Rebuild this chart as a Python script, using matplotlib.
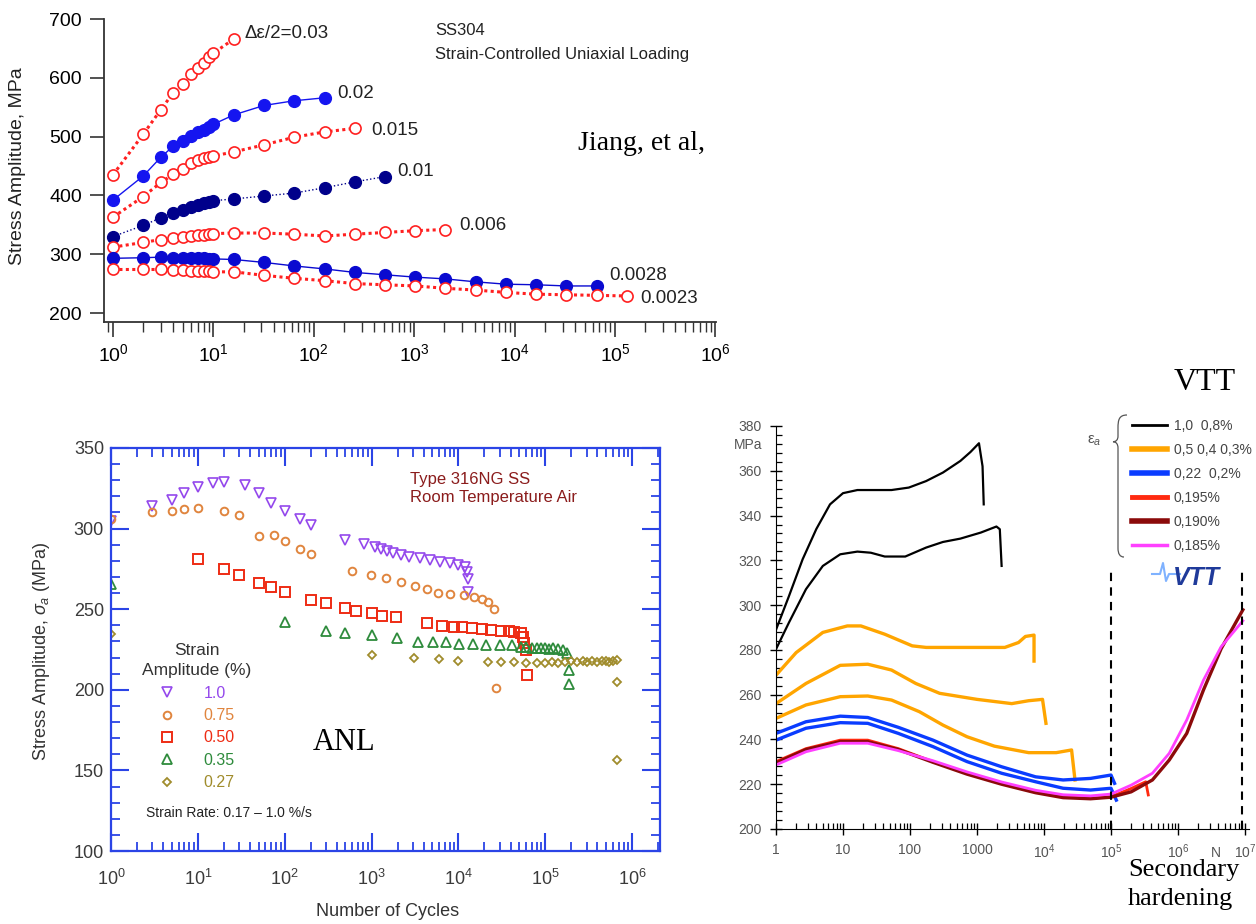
import numpy as np
import matplotlib.pyplot as plt
from matplotlib.ticker import LogLocator, MultipleLocator, NullFormatter, FuncFormatter
from matplotlib.path import Path
from matplotlib.patches import PathPatch

plt.rcParams['font.family'] = 'Liberation Sans'
plt.rcParams['mathtext.fontset'] = 'custom'
plt.rcParams['mathtext.rm'] = 'Liberation Sans'
plt.rcParams['mathtext.it'] = 'Liberation Sans:italic'
plt.rcParams['mathtext.bf'] = 'Liberation Sans:bold'

# ---------------- data: Jiang et al. (SS304) ----------------
n_a = [1, 2, 3, 4, 5, 6, 7, 8, 9, 10]
n_b = [16, 32, 64, 128, 256, 512, 1024, 2048, 4096, 8192, 16384, 32768, 65536, 131072]

j_003 = [435, 504, 546, 575, 590, 606, 616, 626, 636, 642, 666]
j_002 = [392, 433, 465, 484, 493, 501, 507, 512, 517, 521, 537, 553, 561, 566]
j_0015 = [363, 398, 422, 436, 445, 455, 460, 463, 466, 467, 474, 486, 499, 508, 514]
j_001 = [330, 349, 362, 370, 376, 381, 384, 387, 389, 391, 394, 399, 404, 413, 423, 432]
j_0006 = [312, 320, 325, 328, 330, 331, 332, 333, 334, 335, 336, 336, 334, 331, 334, 337, 340, 342]
j_00028 = [293, 294, 295, 294, 294, 293, 293, 293, 292, 292,
           291, 286, 280, 275, 269, 265, 261, 258, 253, 249, 248, 246, 246]
j_00023 = [274, 274, 274, 273, 273, 272, 272, 271, 271, 270,
           270, 264, 259, 255, 250, 248, 246, 242, 239, 235, 232, 231, 230, 229]
decades_top = [1e0, 1e1, 1e2, 1e3, 1e4, 1e5, 1e6]

# ---------------- data: ANL (Type 316NG) ----------------
anl_n1 = [1, 3, 5, 7, 10, 15, 20, 35, 50, 70, 100, 150, 200, 500, 810, 1100, 1270, 1500, 1780,
          2200, 2700, 3600, 4700, 6200, 8000, 10000, 12000, 12500, 12800, 13000]
anl_s1 = [305, 314, 318, 322, 326, 328, 329, 327, 322, 316, 311, 306, 302.5, 293, 290.5, 288.8,
          287.3, 286, 284.7, 283.6, 282.6, 281.5, 280.5, 279, 278.4, 277.4, 276.3, 273.2, 269, 260.7]
anl_n2 = [1, 3, 5, 7, 10, 20, 30, 50, 75, 100, 150, 200, 600, 980, 1450, 2200, 3200, 4350, 5900,
          8100, 11500, 15000, 18600, 21800, 25600, 27000]
anl_s2 = [306, 310, 311, 312, 313, 311, 308.5, 295.7, 296.3, 292.2, 287.5, 284.4, 274, 271, 269.3,
          266.9, 264.2, 262.5, 260.3, 259.7, 258.6, 257.6, 256.6, 254.5, 250.4, 201.4]
anl_n3 = [10, 20, 30, 50, 70, 100, 200, 300, 490, 670, 1020, 1310, 1920, 4370, 6470, 8870, 11000,
          14300, 18600, 24000, 31000, 38000, 44000, 52000, 56000, 57000, 60000, 61000]
anl_s3 = [281, 274.7, 271.2, 266.1, 263.6, 260.9, 256, 253.6, 250.6, 249.1, 247.5, 245.8, 245,
          241.2, 239.8, 239.1, 238.8, 238.2, 237.5, 237.1, 236.7, 236.7, 236, 235, 233, 228.8, 224.6, 209.2]
anl_n4 = [1, 100, 300, 500, 1000, 1950, 3400, 5100, 7200, 10300, 14600, 20600, 29800, 41000, 52000,
          60000, 70000, 81000, 90000, 100000, 110000, 123000, 140000, 160000, 180000, 186000, 190000]
anl_s4 = [265.6, 241.8, 236.6, 235.5, 234, 231.9, 229.8, 229.8, 229.4, 228.4, 228.2, 227.8, 227.8,
          227.8, 226.7, 226.3, 226, 225.7, 225.9, 225.7, 225.6, 225.7, 225.4, 224.7, 222.6, 212.3, 203.4]
anl_n5 = [1, 1000, 3100, 6000, 10000, 21700, 31000, 44000, 60000, 81000, 100000, 120000, 140000,
          170000, 200000, 235000, 270000, 300000, 350000, 400000, 450000, 500000, 550000, 600000,
          670000, 680000, 680000]
anl_s5 = [234.4, 221.6, 219.5, 219.1, 218, 217.4, 217.4, 217.4, 216.8, 216.8, 216.5, 217.2, 216.8,
          217, 217.6, 217.4, 217.9, 217.2, 217.6, 217.4, 218, 217.8, 217.5, 218, 218.5, 204.7, 156.4]
anl_labels = ['1.0', '0.75', '0.50', '0.35', '0.27']

# ---------------- data: VTT ----------------
v_black1_n = [1, 1.56, 2.5, 4, 6.4, 10, 16.4, 53, 96, 174, 310, 565, 800, 1070, 1210, 1260]
v_black1_s = [289, 304, 320.5, 334, 345, 350, 351.4, 351.4, 352.5, 355.4, 359.2, 364.4, 368.4, 372.3, 362, 345]
v_black2_n = [1, 1.56, 2.8, 5, 9.1, 16.4, 26, 42, 85, 174, 310, 565, 1140, 1950, 2190, 2330]
v_black2_s = [280.3, 292.2, 307.1, 317.5, 322.7, 323.9, 323.4, 321.7, 321.7, 325.7, 328.2, 329.7, 332.4, 335.1, 333.9, 317.5]
v_or1_n = [1, 2, 5, 11.6, 18.5, 42, 108, 174, 565, 2600, 4170, 5280, 7100, 7100]
v_or1_s = [268.7, 278.8, 287.8, 290.7, 290.7, 287, 281.8, 281.1, 281.1, 281.1, 283.3, 286, 286.6, 275]
v_or2_n = [1, 2.8, 9.1, 23.4, 53, 122, 277, 1000, 3300, 5900, 9500, 10700]
v_or2_s = [256, 265, 273.1, 273.6, 271, 265, 260.6, 257.9, 256, 257.3, 257.9, 247.2]
v_or3_n = [1, 2.8, 9.1, 23.4, 53, 138, 311, 710, 1820, 5900, 15200, 25800, 29000]
v_or3_s = [249.4, 255.4, 259.1, 259.4, 257.6, 252.4, 246.4, 241.2, 237, 234.1, 234.1, 235.3, 221.9]
v_bl1_n = [1, 2.8, 9.1, 23.4, 67, 220, 710, 2330, 7500, 19300, 49500, 100000, 113000]
v_bl1_s = [242.7, 247.9, 250.4, 249.8, 245.4, 239.7, 233, 227.8, 223.3, 221.9, 222.6, 224.1, 220.4]
v_bl2_n = [1, 2.8, 9.1, 23.4, 67, 220, 710, 2330, 7500, 19300, 49500, 100000, 120000]
v_bl2_s = [239.7, 245, 247.5, 247.2, 242.7, 236.8, 230.1, 224.9, 221.1, 218.2, 217.4, 218.2, 212.9]
v_red_n = [1, 2.8, 9.1, 23.4, 67, 220, 710, 2330, 7500, 19300, 49500, 100000, 200000, 330000, 360000]
v_red_s = [230.1, 235.9, 239.7, 239.7, 235.9, 230.1, 224.9, 220.4, 216.7, 214.4, 213.7, 214.4, 218.1, 221.1, 215.2]
v_dred_n = [1, 2.8, 9.1, 23.4, 67, 220, 710, 2330, 7500, 19300, 49500, 100000, 200000, 415000,
            740000, 1350000, 2400000, 4400000, 9300000]
v_dred_s = [229.5, 235.5, 239, 239, 235.5, 229.8, 224.5, 220, 216.2, 214, 213.5, 214.2, 216.6, 221.9,
            230.8, 242.7, 262.1, 280.5, 297.9]
v_mag_n = [1, 2.8, 9.1, 23.4, 67, 220, 710, 2330, 7500, 19300, 49500, 100000, 200000, 415000,
           740000, 1350000, 2400000, 4400000, 9300000]
v_mag_s = [228.6, 234.5, 238.3, 238.3, 235, 230.5, 225.5, 221, 217.3, 215.3, 214.8, 215.6, 219.6, 224.9,
           233.8, 248.7, 266.5, 281.4, 293]
vtt_labels = ['1,0  0,8%', '0,5 0,4 0,3%', '0,22  0,2%', '0,195%', '0,190%', '0,185%']
vtt_marks = [1e5, 9e6]
decades_vtt = [1e0, 1e1, 1e2, 1e3, 1e4, 1e5, 1e6, 1e7]

W, H = 1256, 924


def rect(l, t, r, b):
    return [l / W, 1 - b / H, (r - l) / W, (b - t) / H]


def fxy(x, y):
    return (x / W, 1 - y / H)


fig = plt.figure(figsize=(W / 100, H / 100), dpi=100)

# =============== top chart ===============
ax1 = fig.add_axes(rect(104, 19, 716, 322))
ax1.set_xscale('log')
ax1.set_xlim(10 ** (-9 / 100.4), 10 ** (603 / 100.4))
ax1.set_ylim(184.7, 700)

red = '#ff2020'
dot = (0, (1, 1.1))
open_kw = dict(marker='o', mfc='white', mec=red, ms=8, mew=1.2, color=red, ls=dot, lw=2.2)
ax1.plot(n_a + n_b[:1], j_003, **open_kw)
ax1.plot(n_a + n_b[:4], j_002, marker='o', color='#1515f0', ms=8.5, lw=1.0)
ax1.plot(n_a + n_b[:5], j_0015, **open_kw)
ax1.plot(n_a + n_b[:6], j_001, marker='o', color='#00008b', ms=8.5, lw=1.0, ls=':')
ax1.plot(n_a + n_b[:8], j_0006, **open_kw)
ax1.plot(n_a + n_b[:13], j_00028, marker='o', color='#0a0ad0', ms=8.5, lw=1.0)
ax1.plot(n_a + n_b, j_00023, **open_kw)

for s in ['top', 'right']:
    ax1.spines[s].set_visible(False)
for s in ['left', 'bottom']:
    ax1.spines[s].set_linewidth(1.3)
    ax1.spines[s].set_color('#333333')
ax1.yaxis.set_major_locator(MultipleLocator(100))
ax1.set_xticks(decades_top)
ax1.xaxis.set_minor_locator(LogLocator(base=10, subs=np.arange(2, 10), numticks=20))
ax1.xaxis.set_minor_formatter(NullFormatter())
ax1.tick_params(which='major', direction='out', length=11, width=1.2, labelsize=14, color='#333333', pad=4)
ax1.tick_params(which='minor', direction='out', length=7, width=1.0, color='#333333')
ax1.tick_params(axis='y', length=10, pad=6)

lab_kw = dict(fontsize=13.5, va='center', color='#222222')
ax1.text(20.6, 676, 'Δε/2=0.03', **lab_kw)
ax1.text(170, 574, '0.02', **lab_kw)
ax1.text(371, 511, '0.015', **lab_kw)
ax1.text(676, 441, '0.01', **lab_kw)
ax1.text(2800, 348, '0.006', **lab_kw)
ax1.text(87000, 263, '0.0028', **lab_kw)
ax1.text(178000, 225, '0.0023', **lab_kw)
ax1.text(1610, 680, 'SS304', fontsize=12, va='center', color='#222222')
ax1.text(1610, 640, 'Strain-Controlled Uniaxial Loading', fontsize=12, va='center', color='#222222')
fig.text(*fxy(18, 166), 'Stress Amplitude, MPa', rotation=90, ha='center', va='center',
         fontsize=14, color='#222222')
fig.text(*fxy(578, 143), 'Jiang, et al,', family='Liberation Serif', fontsize=20, va='center')

# =============== ANL chart ===============
ax2 = fig.add_axes(rect(111, 448, 660, 851))
ax2.set_xscale('log')
ax2.set_xlim(1, 10 ** (549.4 / 86.9))
ax2.set_ylim(100, 350)

anl_cols = ['#9448ec', '#e0853e', '#ee2c14', '#2e8b3c', '#a08c2c']
h1, = ax2.plot(anl_n1, anl_s1, 'v', mfc='none', mec=anl_cols[0], ms=7, mew=1.2)
h2, = ax2.plot(anl_n2, anl_s2, 'o', mfc='none', mec=anl_cols[1], ms=5.5, mew=1.4)
h3, = ax2.plot(anl_n3, anl_s3, 's', mfc='none', mec=anl_cols[2], ms=7.5, mew=1.4)
h4, = ax2.plot(anl_n4, anl_s4, '^', mfc='none', mec=anl_cols[3], ms=6.5, mew=1.3)
h5, = ax2.plot(anl_n5, anl_s5, 'D', mfc='none', mec=anl_cols[4], ms=4.5, mew=1.3)

blue = '#2b44e6'
for s in ax2.spines.values():
    s.set_color(blue)
    s.set_linewidth(1.6)
ax2.yaxis.set_major_locator(MultipleLocator(50))
ax2.yaxis.set_minor_locator(MultipleLocator(10))
ax2.set_xticks(decades_top)
ax2.xaxis.set_minor_locator(LogLocator(base=10, subs=np.arange(2, 10), numticks=20))
ax2.xaxis.set_minor_formatter(NullFormatter())
ax2.tick_params(which='both', direction='in', top=True, right=True, color=blue,
                labelcolor='#3a3a3a', labelsize=13)
ax2.tick_params(which='major', length=13, width=1.5)
ax2.tick_params(which='minor', length=6.5, width=1.3)
ax2.tick_params(axis='x', pad=13)
ax2.tick_params(axis='y', pad=5)

leg = ax2.legend([h1, h2, h3, h4, h5], anl_labels, title='Strain\nAmplitude (%)',
                 loc='upper left', bbox_to_anchor=fxy(142, 643), bbox_transform=fig.transFigure,
                 frameon=False, fontsize=11.5, title_fontsize=12.5, handletextpad=1.8,
                 labelspacing=0.46, handlelength=1.0, borderpad=0, borderaxespad=0)
leg.get_title().set_multialignment('center')
leg.get_title().set_linespacing(1.45)
leg.get_title().set_color('#333333')
for t, c in zip(leg.get_texts(), anl_cols):
    t.set_color(c)

ax2.text(0.545, 0.9, 'Type 316NG SS\nRoom Temperature Air', transform=ax2.transAxes,
         fontsize=12, color='#8b1c1c', va='center', linespacing=1.2)
fig.text(*fxy(146, 813), 'Strain Rate: 0.17 – 1.0 %/s', fontsize=10, va='center', color='#222222')
fig.text(*fxy(344, 742), 'ANL', family='Liberation Serif', fontsize=22, ha='center', va='center')
fig.text(*fxy(42, 651), 'Stress Amplitude, $\\sigma_a$ (MPa)', rotation=90, ha='center',
         va='center', fontsize=13, color='#333333')
fig.text(*fxy(388, 912), 'Number of Cycles', ha='center', va='center', fontsize=13, color='#333333')

# =============== VTT chart ===============
ax3 = fig.add_axes(rect(776, 426, 1249, 829))
ax3.set_xscale('log')
ax3.set_xlim(1, 10 ** (473 / 67.0))
ax3.set_ylim(200, 380)

lb1, = ax3.plot(v_black1_n, v_black1_s, color='black', lw=1.6)
ax3.plot(v_black2_n, v_black2_s, color='black', lw=1.6)
lo1, = ax3.plot(v_or1_n, v_or1_s, color='#ffa500', lw=2.4)
ax3.plot(v_or2_n, v_or2_s, color='#ffa500', lw=2.4)
ax3.plot(v_or3_n, v_or3_s, color='#ffa500', lw=2.4)
lbl1, = ax3.plot(v_bl1_n, v_bl1_s, color='#0a3cff', lw=2.4)
ax3.plot(v_bl2_n, v_bl2_s, color='#0a3cff', lw=2.4)
lr, = ax3.plot(v_red_n, v_red_s, color='#ff2a10', lw=2.0)
ld, = ax3.plot(v_dred_n, v_dred_s, color='#8b0a0a', lw=2.4)
lm, = ax3.plot(v_mag_n, v_mag_s, color='#ff40ff', lw=2.0)
ax3.vlines(vtt_marks, 200, 317, colors='black', linestyles=(0, (4, 3)), lw=1.5)

for s in ['top', 'right']:
    ax3.spines[s].set_visible(False)
ax3.yaxis.set_major_locator(MultipleLocator(20))
ax3.yaxis.set_minor_locator(MultipleLocator(4))
ax3.set_xticks(decades_vtt)
ax3.xaxis.set_minor_locator(LogLocator(base=10, subs=np.arange(2, 10), numticks=20))
ax3.xaxis.set_minor_formatter(NullFormatter())
ax3.xaxis.set_major_formatter(FuncFormatter(
    lambda v, p: f'{int(round(v))}' if v < 1e4 else f'$10^{{{int(round(np.log10(v)))}}}$'))
ax3.tick_params(which='major', direction='inout', length=8, width=1.0, labelsize=10,
                labelcolor='#555555', pad=6)
ax3.tick_params(which='minor', direction='in', length=4, width=0.9)

vleg = ax3.legend([lb1, lo1, lbl1, lr, ld, lm], vtt_labels, loc='upper left',
                  bbox_to_anchor=fxy(1132, 419), bbox_transform=fig.transFigure, frameon=False,
                  fontsize=10, handlelength=2.5, handletextpad=0.5, labelspacing=0.72,
                  borderpad=0, borderaxespad=0, labelcolor='#444444')
for ln, w in zip(vleg.get_lines(), [2, 4, 4, 3.5, 4, 2.5]):
    ln.set_linewidth(w)

# brace next to the legend
bx = [(1127, 415), (1119, 415), (1118, 420), (1118, 428), (1118, 436),
      (1118, 440), (1116, 441.7), (1113, 441.7), (1116, 441.7), (1118, 444), (1118, 448),
      (1118, 548), (1118, 554), (1120, 557), (1124, 557)]
codes = [Path.MOVETO, Path.CURVE4, Path.CURVE4, Path.CURVE4, Path.LINETO,
         Path.CURVE4, Path.CURVE4, Path.CURVE4, Path.CURVE4, Path.CURVE4, Path.CURVE4,
         Path.LINETO, Path.CURVE4, Path.CURVE4, Path.CURVE4]
brace = Path([fxy(x, y) for x, y in bx], codes)
fig.add_artist(PathPatch(brace, transform=fig.transFigure, fill=False, lw=0.9, edgecolor='#555555'))
fig.text(*fxy(1094, 441), 'ε$_a$', fontsize=11, ha='center', va='center', color='#555555')

# VTT logo
fig.text(*fxy(1196, 578), 'VTT', fontsize=18, fontweight='bold', style='italic',
         color='#1f3a9a', ha='center', va='center')
fig.add_artist(plt.Line2D([1152 / W, 1160 / W, 1163 / W, 1166 / W, 1169 / W, 1180 / W],
                          [1 - 574 / H, 1 - 574 / H, 1 - 563 / H, 1 - 581 / H, 1 - 574 / H, 1 - 574 / H],
                          color='#7fb2ff', lw=1.5))

fig.text(*fxy(748, 445), 'MPa', fontsize=10, ha='center', va='center', color='#555555')
fig.text(*fxy(1216, 853), 'N', fontsize=10, ha='center', va='center', color='#555555')
fig.text(*fxy(1205, 382), 'VTT', family='Liberation Serif', fontsize=23, ha='center', va='center')
fig.text(*fxy(1184, 870), 'Secondary', family='Liberation Serif', fontsize=19, ha='center', va='center')
fig.text(*fxy(1128, 899), 'hardening', family='Liberation Serif', fontsize=19, ha='left', va='center')

fig.savefig('out.png', dpi=100)
